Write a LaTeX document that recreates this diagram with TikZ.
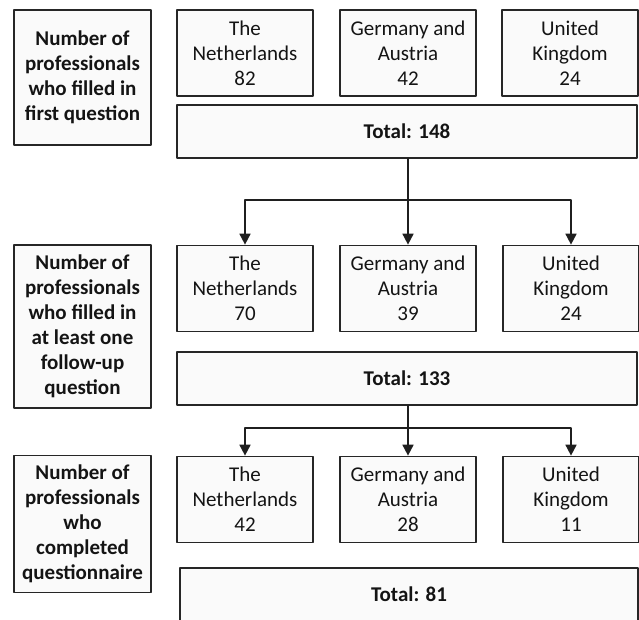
\documentclass[tikz,border=0pt]{standalone}
\usepackage{fontspec}
\setmainfont{Carlito}
\usepackage{tikz}
\usetikzlibrary{arrows.meta}
\tikzset{
  box/.style={draw=black!85,line width=1.7pt,fill=black!2,align=center,inner sep=0pt,text=black!92,
    font=\fontsize{21}{25}\selectfont},
  rowlabel/.style={box,minimum width=137pt,font=\fontsize{21}{25}\selectfont\bfseries},
  country/.style={box,minimum width=136pt,minimum height=86pt},
  total/.style={box,minimum width=460pt,minimum height=53pt,font=\fontsize{21}{25}\selectfont\bfseries},
}
\begin{document}
\begin{tikzpicture}[line cap=round,line join=round,>={Triangle[length=11pt,width=11pt]},x=1pt,y=-1pt]
\useasboundingbox (0,0) rectangle (639,619);
\clip (0,0) rectangle (639,619);
\node[rowlabel,minimum height=135pt] (lab1) at (82.5,77.5) {Number of\\professionals\\who filled in\\first question};
\node[country] (nl1) at (245,53) {The\\Netherlands\\82};
\node[country] (ga1) at (408,53) {Germany and\\Austria\\42};
\node[country] (uk1) at (570,53) {United\\Kingdom\\24};
\node[total] (tot1) at (407,131.5) {Total: 148};
\node[rowlabel,minimum height=163pt] (lab2) at (82.5,326.5) {Number of\\professionals\\who filled in\\at least one\\follow-up\\question};
\node[country] (nl2) at (245,288.5) {The\\Netherlands\\70};
\node[country] (ga2) at (408,288.5) {Germany and\\Austria\\39};
\node[country] (uk2) at (571,288.5) {United\\Kingdom\\24};
\node[total] (tot2) at (407,378.5) {Total: 133};
\node[rowlabel,minimum height=137pt] (lab3) at (82.5,524) {Number of\\professionals\\who\\completed\\questionnaire};
\node[country] (nl3) at (245,499.5) {The\\Netherlands\\42};
\node[country] (ga3) at (408,499.5) {Germany and\\Austria\\28};
\node[country] (uk3) at (571,499.5) {United\\Kingdom\\11};
\node[total,minimum width=458pt] (tot3) at (409,594.5) {Total: 81};
\coordinate (j1) at (408,200);
\coordinate (j2) at (408,428);
\draw[line width=1.7pt,black!88] (tot1.south -| j1) -- (j1);
\draw[->,line width=1.7pt,black!88] (j1) -| (nl2.north);
\draw[->,line width=1.7pt,black!88] (j1) -- (ga2.north);
\draw[->,line width=1.7pt,black!88] (j1) -| (uk2.north);
\draw[line width=1.7pt,black!88] (tot2.south -| j2) -- (j2);
\draw[->,line width=1.7pt,black!88] (j2) -| (nl3.north);
\draw[->,line width=1.7pt,black!88] (j2) -- (ga3.north);
\draw[->,line width=1.7pt,black!88] (j2) -| (uk3.north);
\end{tikzpicture}
\end{document}
